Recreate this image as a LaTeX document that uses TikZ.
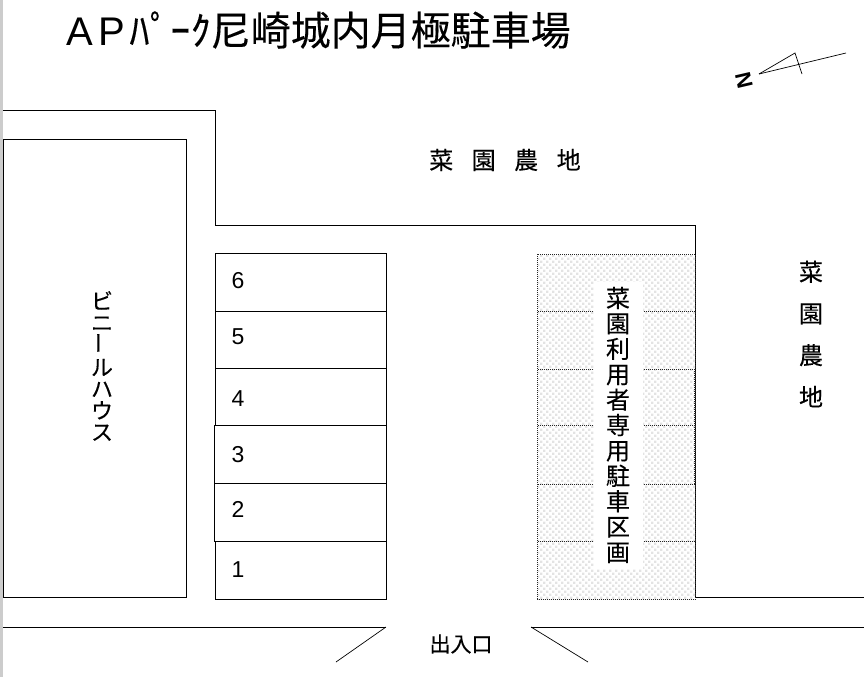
\documentclass[tikz,border=0pt]{standalone}
\usepackage{fontspec}
\usepackage{graphicx}
\usetikzlibrary{patterns}
\setmainfont{Liberation Sans}
\newfontfamily\jp[FakeBold=0.25]{Noto Sans CJK JP}
\pgfdeclarepatternformonly{paledots}{\pgfqpoint{-1pt}{-1pt}}{\pgfqpoint{7pt}{7pt}}{\pgfqpoint{6pt}{6pt}}
  {
  \pgfpathrectangle{\pgfqpoint{0pt}{0pt}}{\pgfqpoint{2.4pt}{2.4pt}}
  \pgfpathrectangle{\pgfqpoint{3pt}{3pt}}{\pgfqpoint{2.4pt}{2.4pt}}
  \pgfusepath{fill}
  }
\tikzset{
  wall/.style={draw=black,line width=0.9pt},
  stall/.style={draw=black!85,line width=0.8pt,dash pattern=on 1pt off 1pt},
  jplabel/.style={inner sep=0pt,font=\jp\fontsize{24}{28}\selectfont},
  stalllabel/.style={inner sep=0pt,font=\fontsize{23}{26}\selectfont},
}
\begin{document}
\begin{tikzpicture}[x=1pt,y=-1pt]
  \useasboundingbox (0,0) rectangle (864,677);
  \fill[black!20] (0,0) rectangle (2.5,677);
  % title
  \node[anchor=west,inner sep=0pt] (title) at (66,30) {\fontsize{40}{44}\selectfont A\hspace{6pt}P\hspace{4pt}{\jp\addfontfeature{LetterSpace=1}ﾊﾟｰｸ}{\jp 尼崎城内月極駐車場}};
  % north mark
  \draw[line width=0.7pt] (759,74) -- (846,53);
  \draw[line width=0.7pt] (759,74) -- (795,53) -- (802,74);
  \node[inner sep=0pt,rotate=103,font=\bfseries\fontsize{22}{24}\selectfont] (north) at (744,80) {N};
  % boundary
  \draw[wall] (3,110) -- (215,110) -- (215,225) -- (695.5,225) -- (695.5,597) -- (864,597);
  \draw[wall] (3,139) rectangle (186,597);
  \node[align=center,inner sep=0pt,font=\jp\fontsize{22}{21.6}\selectfont] (house) at (102,366) {ビ\\ニ\\\rotatebox{90}{ー}\\ル\\ハ\\ウ\\ス};
  % numbered stalls
  \foreach \ytop/\ybot/\xleft/\ymid/\num in {253/311/215.5/281/6,311/368/215.5/337/5,368/425/215.5/399/4,425/483/214.5/455/3,483/541/214.5/509/2,541/599/215.5/570/1}
    {
    \draw[wall] (\xleft,\ytop) rectangle (386,\ybot);
    \node[stalllabel] (stall\num) at (238,\ymid) {\num};
    }
  % users' stalls
  \fill[pattern=paledots,pattern color=black!11] (537.5,254) rectangle (695,599);
  \draw[stall] (537.5,254) rectangle (695,599);
  \foreach \ydiv in {311,369,425,484,541}
    \draw[stall] (537.5,\ydiv) -- (695,\ydiv);
  \draw[stall] (694.5,369) -- (694.5,484);
  \node[fill=white,minimum width=49pt,minimum height=287pt,inner sep=0pt] (userbox) at (618.5,425.5) {};
  \node[align=center,inner sep=0pt,font=\jp\fontsize{24}{25.4}\selectfont] (userlabel) at (618,425) {菜\\園\\利\\用\\者\\専\\用\\駐\\車\\区\\画};
  % farm land
  \node[jplabel,font=\jp\addfontfeature{LetterSpace=77}\fontsize{24}{28}\selectfont] (farmtop) at (505,160) {菜園農地};
  \node[jplabel,align=center,font=\jp\fontsize{24}{41.7}\selectfont] (farmright) at (811,334) {菜\\園\\農\\地};
  % entrance
  \draw[wall] (3,627) -- (386,627);
  \draw[line width=0.7pt] (386,627) -- (336,662);
  \draw[wall] (864,627) -- (531,627);
  \draw[line width=0.7pt] (531,627) -- (588,662);
  \node[jplabel,font=\jp\fontsize{21}{24}\selectfont] (entrance) at (461,644) {出入口};
\end{tikzpicture}
\end{document}
